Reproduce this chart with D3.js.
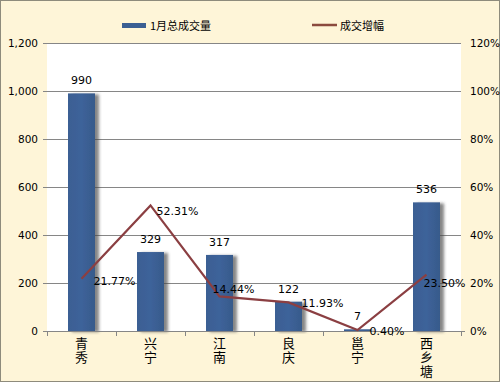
<!DOCTYPE html>
<html><head><meta charset="utf-8">
<script src="https://cdn.jsdelivr.net/npm/d3@7"></script>
<style>
html,body{margin:0;padding:0;background:#fff;}
svg{display:block;}
text{font-family:"DejaVu Sans","Noto Sans CJK SC",sans-serif;fill:#000;}
.cjk{font-family:"Noto Sans CJK SC","DejaVu Sans",sans-serif;}
.vert{writing-mode:vertical-rl;text-orientation:upright;}
</style></head>
<body>
<svg id="c" width="500" height="382"></svg>
<script>
const categories = ["青秀","兴宁","江南","良庆","邕宁","西乡塘"];
const volume = [990, 329, 317, 122, 7, 536];
const growth = [21.77, 52.31, 14.44, 11.93, 0.40, 23.50];
const leftTicks = [0, 200, 400, 600, 800, 1000, 1200];
const rightTicks = [0, 20, 40, 60, 80, 100, 120];
const seriesNames = ["1月总成交量", "成交增幅"];
// label nudges for the percentage labels (as placed in the original)
const pctLabelDx = [12, 6, -7, 13, 12, -3];
const pctLabelDy = [6, 10, -3, 5, 5, 12];

const svg = d3.select("#c");
const W = 500, H = 382;
const m = {l:47, r:39, t:43, b:51};
const pw = W - m.l - m.r, ph = H - m.t - m.b;

svg.append("rect").attr("x",0.5).attr("y",0.5).attr("width",W-1).attr("height",H-1)
  .attr("fill","#FEF5D8").attr("stroke","#8E8B7C").attr("stroke-width",1);

const defs = svg.append("defs");
const f = defs.append("filter").attr("id","sh").attr("x","-20%").attr("y","-10%").attr("width","160%").attr("height","120%");
f.append("feDropShadow").attr("dx",4).attr("dy",1).attr("stdDeviation",1.8).attr("flood-color","#444").attr("flood-opacity",0.65);
const lg = defs.append("linearGradient").attr("id","bg").attr("x1",0).attr("x2",1).attr("y1",0).attr("y2",0);
lg.append("stop").attr("offset","0%").attr("stop-color","#3B5F93");
lg.append("stop").attr("offset","50%").attr("stop-color","#3E639A");
lg.append("stop").attr("offset","100%").attr("stop-color","#375A8B");

const g = svg.append("g").attr("transform",`translate(${m.l},${m.t})`);
g.append("rect").attr("width",pw).attr("height",ph).attr("fill","#fff");

const xb = d3.scaleBand().domain(categories).range([0,pw]);
const y = d3.scaleLinear().domain([0,1200]).range([ph,0]);
const y2 = d3.scaleLinear().domain([0,120]).range([ph,0]);

// gridlines
g.selectAll(".grid").data(leftTicks.slice(1)).join("line")
  .attr("x1",-4).attr("x2",pw).attr("y1",d=>Math.round(y(d))+0.5).attr("y2",d=>Math.round(y(d))+0.5)
  .attr("stroke","#868686").attr("stroke-width",1);

// bars
g.selectAll(".bar").data(categories).join("rect")
  .attr("x",(d,i)=>xb(d)+xb.bandwidth()/2-13.5)
  .attr("width",27)
  .attr("y",(d,i)=>y(volume[i]))
  .attr("height",(d,i)=>ph-y(volume[i]))
  .attr("fill","url(#bg)").attr("filter","url(#sh)");

// bottom axis
const xa = g.append("g").attr("transform",`translate(0,${ph})`);
xa.append("line").attr("x1",-4).attr("x2",pw+4).attr("y1",0.5).attr("y2",0.5).attr("stroke","#868686");
const bounds = categories.map(c=>xb(c)).concat([pw]);
xa.selectAll(".tk").data(bounds).join("line")
  .attr("x1",d=>Math.round(d)+0.5).attr("x2",d=>Math.round(d)+0.5).attr("y1",0).attr("y2",5).attr("stroke","#868686");
xa.selectAll(".cl").data(categories).join("text")
  .attr("class","cjk vert")
  .attr("x",d=>xb(d)+xb.bandwidth()/2).attr("y",6)
  .attr("font-size",13).attr("letter-spacing",1)
  .text(d=>d);

// left axis labels
const fmt = d3.format(",");
g.selectAll(".ly").data(leftTicks).join("text")
  .attr("x",-9).attr("y",d=>y(d)+4).attr("text-anchor","end").attr("font-size",10.5)
  .text(d=>fmt(d));
// right axis labels
g.selectAll(".ry").data(rightTicks).join("text")
  .attr("x",pw+9).attr("y",d=>y2(d)+4).attr("text-anchor","start").attr("font-size",10.5)
  .text(d=>d+"%");

// line
const line = d3.line().x((d,i)=>xb(categories[i])+xb.bandwidth()/2).y(d=>y2(d));
g.append("path").datum(growth).attr("d",line).attr("fill","none")
  .attr("stroke","#8B3F42").attr("stroke-width",2.2);

// bar value labels
g.selectAll(".bv").data(volume).join("text")
  .attr("x",(d,i)=>xb(categories[i])+xb.bandwidth()/2).attr("y",d=>y(d)-9)
  .attr("text-anchor","middle").attr("font-size",11).text(d=>d);
// pct labels
g.selectAll(".pv").data(growth).join("text")
  .attr("x",(d,i)=>xb(categories[i])+xb.bandwidth()/2+pctLabelDx[i])
  .attr("y",(d,i)=>y2(d)+pctLabelDy[i])
  .attr("text-anchor","start").attr("font-size",11).text(d=>d.toFixed(2)+"%");

// legend
svg.append("rect").attr("x",122).attr("y",23).attr("width",24).attr("height",5).attr("fill","#3B5F93");
svg.append("text").attr("class","cjk").attr("x",150).attr("y",29.5).attr("font-size",11).text(seriesNames[0]);
svg.append("line").attr("x1",312).attr("x2",337).attr("y1",25).attr("y2",25).attr("stroke","#8B4A3E").attr("stroke-width",2.5);
svg.append("text").attr("class","cjk").attr("x",340).attr("y",29.5).attr("font-size",11).text(seriesNames[1]);
</script>
</body></html>
